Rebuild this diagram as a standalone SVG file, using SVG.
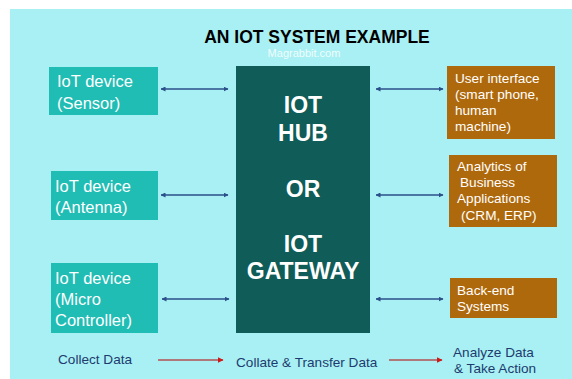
<svg xmlns="http://www.w3.org/2000/svg" width="572" height="379" viewBox="0 0 572 379">
<style>
.t{font-family:"Liberation Sans",Arial,sans-serif;}
.dev{fill:#20bdb4;}
.out{fill:#ae690c;}
.dt{font-family:"Liberation Sans",Arial,sans-serif;font-size:16.5px;fill:#ffffff;}
.ot{font-family:"Liberation Sans",Arial,sans-serif;font-size:13.6px;fill:#ffffff;}
.ht{font-family:"Liberation Sans",Arial,sans-serif;font-size:23px;font-weight:bold;fill:#ffffff;text-anchor:middle;}
.bt{font-family:"Liberation Sans",Arial,sans-serif;font-size:13.6px;fill:#1d3b6e;}
.ba{stroke:#2b4f8a;stroke-width:1.5;fill:none;marker-start:url(#bs);marker-end:url(#be);}
.ra{stroke:#b45050;stroke-width:1.5;fill:none;marker-end:url(#re);}
</style>
<defs>
<marker id="be" viewBox="0 0 10 10" refX="9" refY="5" markerWidth="5" markerHeight="5" orient="auto" markerUnits="userSpaceOnUse"><path d="M0,0 L10,5 L0,10 z" fill="#2b4f8a"/></marker>
<marker id="bs" viewBox="0 0 10 10" refX="1" refY="5" markerWidth="5" markerHeight="5" orient="auto" markerUnits="userSpaceOnUse"><path d="M10,0 L0,5 L10,10 z" fill="#2b4f8a"/></marker>
<marker id="re" viewBox="0 0 10 10" refX="9" refY="5" markerWidth="6" markerHeight="6" orient="auto" markerUnits="userSpaceOnUse"><path d="M0,0 L10,5 L0,10 z" fill="#d01818"/></marker>
</defs>
<rect x="0" y="0" width="572" height="379" fill="#ffffff"/>
<rect x="10" y="9" width="562" height="370" fill="#a8f0f3"/>
<text class="t" x="317" y="43" font-size="17.5" font-weight="bold" fill="#000000" text-anchor="middle">AN IOT SYSTEM EXAMPLE</text>
<text class="t" x="304" y="57" font-size="11" fill="#ffffff" fill-opacity="0.85" text-anchor="middle">Magrabbit.com</text>
<g id="sensor"><rect class="dev" x="49" y="67" width="109" height="48"/><text class="dt" x="57" y="87">IoT device</text><text class="dt" x="57" y="109">(Sensor)</text></g>
<g id="antenna"><rect class="dev" x="51" y="171" width="107" height="49"/><text class="dt" x="55" y="192">IoT device</text><text class="dt" x="55" y="213">(Antenna)</text></g>
<g id="micro"><rect class="dev" x="51" y="263" width="107" height="70"/><text class="dt" x="55" y="284">IoT device</text><text class="dt" x="55" y="305">(Micro</text><text class="dt" x="55" y="326">Controller)</text></g>
<g id="hub"><rect x="236" y="66" width="134" height="267" fill="#0f5c58"/><text class="ht" x="303" y="113">IOT</text><text class="ht" x="303" y="141">HUB</text><text class="ht" x="303" y="197">OR</text><text class="ht" x="303" y="252">IOT</text><text class="ht" x="303" y="279">GATEWAY</text></g>
<g id="ui"><rect class="out" x="447" y="66" width="108" height="73"/><text class="ot" x="455" y="83">User interface</text><text class="ot" x="455" y="99">(smart phone,</text><text class="ot" x="455" y="115">human</text><text class="ot" x="455" y="131">machine)</text></g>
<g id="analytics"><rect class="out" x="449" y="155" width="108" height="72"/><text class="ot" x="457" y="171">Analytics of</text><text class="ot" x="460" y="187">Business</text><text class="ot" x="457" y="203">Applications</text><text class="ot" x="461" y="220">(CRM, ERP)</text></g>
<g id="backend"><rect class="out" x="450" y="278" width="107" height="40"/><text class="ot" x="457" y="295">Back-end</text><text class="ot" x="457" y="311">Systems</text></g>
<g id="connectors">
<line class="ba" x1="161" y1="89" x2="228" y2="89"/>
<line class="ba" x1="376" y1="89" x2="443" y2="89"/>
<line class="ba" x1="161" y1="195" x2="228" y2="195"/>
<line class="ba" x1="376" y1="195" x2="443" y2="195"/>
<line class="ba" x1="162" y1="299" x2="229" y2="299"/>
<line class="ba" x1="376" y1="299" x2="443" y2="299"/>
<line class="ra" x1="158" y1="360" x2="223" y2="360"/>
<line class="ra" x1="389" y1="360" x2="442" y2="360"/>
</g>
<g id="labels">
<text class="bt" x="58" y="364">Collect Data</text>
<text class="bt" x="236" y="367">Collate &amp; Transfer Data</text>
<text class="bt" x="453" y="357">Analyze Data</text>
<text class="bt" x="454" y="373">&amp; Take Action</text>
</g>
</svg>
